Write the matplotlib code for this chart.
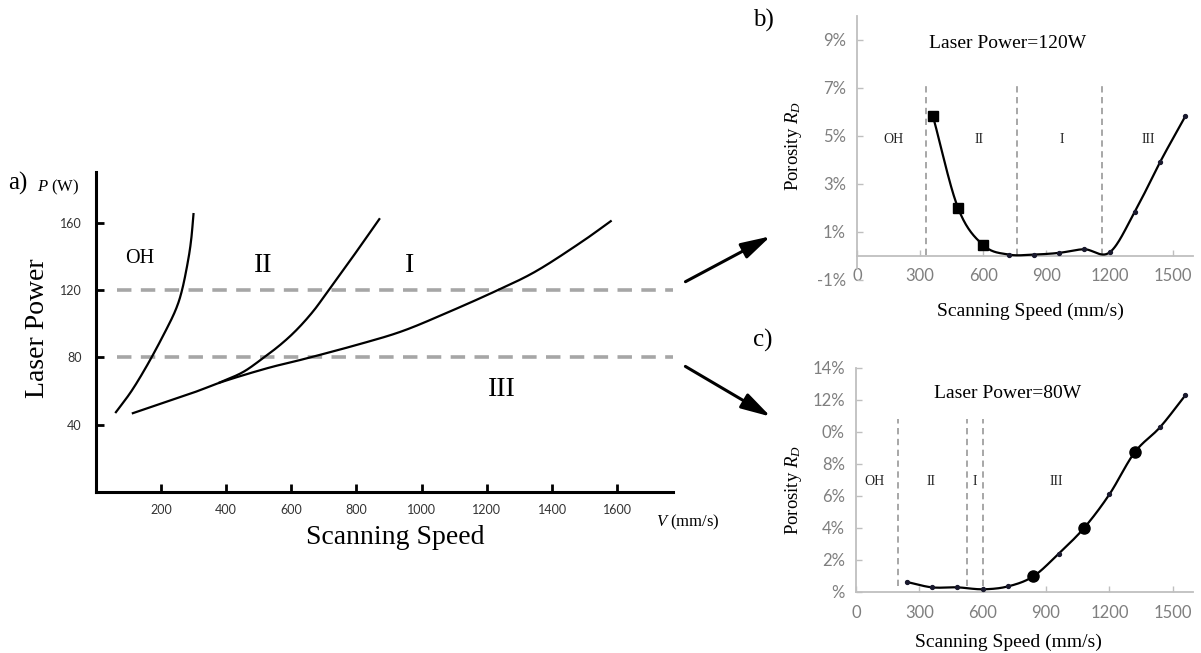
import numpy as np
import matplotlib
matplotlib.use("Agg")
import matplotlib.pyplot as plt
from matplotlib.patches import FancyArrowPatch

plt.rcParams['mathtext.fontset'] = 'custom'
plt.rcParams['mathtext.rm'] = 'Liberation Serif'
plt.rcParams['mathtext.it'] = 'Liberation Serif:italic'

SERIF = 'Liberation Serif'
SANS = 'Lato'

# ---------------- data ----------------
# Panel a: process map boundaries (scanning speed mm/s, laser power W)
oh_speed = [62, 110, 160, 210, 245, 265, 283, 293, 300]
oh_power = [47.4, 60, 76, 94, 108, 120, 137, 150, 165]
ii_speed = [380, 450, 510, 570, 620, 670, 715, 790, 870]
ii_power = [65, 71, 79, 88, 97, 108, 120, 140, 162]
i_speed = [114, 295, 391, 528, 638, 802, 939, 1076, 1226, 1350, 1487, 1580]
i_power = [46.8, 58.7, 65.6, 73.6, 78.9, 87.4, 95.4, 106.3, 119.2, 131, 148, 160.8]
power_levels = [120, 80]
a_xticks = [200, 400, 600, 800, 1000, 1200, 1400, 1600]
a_yticks = [40, 80, 120, 160]
a_regions = ['OH', 'II', 'I', 'III']
a_region_speed = [134, 514, 964, 1247]
a_region_power = [138.6, 134.5, 134.5, 60.7]

# Panel b: porosity at 120 W
b_speed = [360, 480, 600, 720, 840, 960, 1080, 1200, 1320, 1440, 1560]
b_porosity = [5.85, 2.0, 0.45, 0.06, 0.06, 0.13, 0.28, 0.15, 1.85, 3.92, 5.83]
b_big = [0, 1, 2]
b_bounds = [326, 762, 1165]
b_regions = ['OH', 'II', 'I', 'III']
b_region_speed = [174, 578, 971, 1382]
b_yticks = [-1, 1, 3, 5, 7, 9]
b_yticklabels = ['-1%', '1%', '3%', '5%', '7%', '9%']

# Panel c: porosity at 80 W
c_speed = [240, 360, 480, 600, 720, 840, 960, 1080, 1200, 1320, 1440, 1560]
c_porosity = [0.63, 0.29, 0.29, 0.17, 0.35, 0.98, 2.4, 4.0, 6.1, 8.73, 10.3, 12.3]
c_big = [5, 7, 9]
c_bounds = [199, 525, 603]
c_regions = ['OH', 'II', 'I', 'III']
c_region_speed = [87, 355, 563, 949]
c_yticks = [0, 2, 4, 6, 8, 10, 12, 14]
c_yticklabels = ['%', '2%', '4%', '6%', '8%', '0%', '12%', '14%']

bc_xticks = [0, 300, 600, 900, 1200, 1500]


def smooth(x, y, n=30):
    """Catmull-Rom spline through the points (Excel-like smoothed line)."""
    P = np.column_stack([x, y]).astype(float)
    P = np.vstack([2 * P[0] - P[1], P, 2 * P[-1] - P[-2]])
    out = []
    t = np.linspace(0, 1, n)[:, None]
    for i in range(1, len(P) - 2):
        p0, p1, p2, p3 = P[i - 1], P[i], P[i + 1], P[i + 2]
        m1 = (p2 - p0) / 2
        m2 = (p3 - p1) / 2
        h00 = 2 * t**3 - 3 * t**2 + 1
        h10 = t**3 - 2 * t**2 + t
        h01 = -2 * t**3 + 3 * t**2
        h11 = t**3 - t**2
        seg = h00 * p1 + h10 * m1 + h01 * p2 + h11 * m2
        out.append(seg if i == 1 else seg[1:])
    out = np.vstack(out)
    return out[:, 0], out[:, 1]


W, H = 1201, 653
fig = plt.figure(figsize=(W / 100, H / 100), dpi=100)


def fx(px):
    return px / W


def fy(py):
    return 1 - py / H


# ---------------- panel a ----------------
axa = fig.add_axes([fx(95.7), fy(492), fx(673) - fx(95.7), fy(172) - fy(492)])
axa.set_xlim(0, 1771)
axa.set_ylim(0, 190)
for s in ['top', 'right']:
    axa.spines[s].set_visible(False)
for s in ['left', 'bottom']:
    axa.spines[s].set_linewidth(2.2)
    axa.spines[s].set_color('black')
axa.set_xticks(a_xticks)
axa.set_yticks(a_yticks)
axa.tick_params(direction='in', length=6, width=2, colors='black', labelsize=9,
                labelcolor='#333333')
axa.tick_params(axis='x', pad=9)
axa.tick_params(axis='y', pad=10)
for lab in axa.get_xticklabels() + axa.get_yticklabels():
    lab.set_fontfamily(SANS)

for lvl in power_levels:
    axa.plot([65, 1771], [lvl, lvl], color='#a6a6a6', lw=2.6,
             dashes=(4, 2.6), clip_on=False, zorder=1)

for xs, ys in [(oh_speed, oh_power), (ii_speed, ii_power), (i_speed, i_power)]:
    sx, sy = smooth(xs, ys)
    axa.plot(sx, sy, color='black', lw=1.6, zorder=3)

for lab, vx, py in zip(a_regions, a_region_speed, a_region_power):
    axa.text(vx, py, lab, fontsize=14.5 if lab == 'OH' else 20, family=SERIF,
             ha='center', va='center')

fig.text(fx(80), fy(187), r'$P$ (W)', fontsize=12, family=SERIF, ha='right', va='center')
fig.text(fx(656), fy(522), r'$V$ (mm/s)', fontsize=12, family=SERIF, ha='left', va='center')
fig.text(fx(38), fy(328), 'Laser Power', fontsize=20, family=SERIF, rotation=90,
         ha='center', va='center')
fig.text(fx(395), fy(537), 'Scanning Speed', fontsize=20, family=SERIF,
         ha='center', va='center')
fig.text(fx(18), fy(183), 'a)', fontsize=18, family=SERIF, ha='center', va='center')

# arrows
for (x0, y0), (x1, y1) in [((683, 283), (773, 235)), ((683, 365), (773, 418))]:
    arr = FancyArrowPatch((fx(x0), fy(y0)), (fx(x1), fy(y1)), transform=fig.transFigure,
                          arrowstyle='-|>,head_length=0.9,head_width=0.25',
                          mutation_scale=20, color='black', lw=2.2)
    fig.add_artist(arr)

GRAY = '#bfbfbf'
TICKGRAY = '#7f7f7f'


def porosity_panel(rect, xlim, ylim, speed, por, big, bigmarker, bigsize, bounds,
                   bound_span, regions, region_speed, region_y, yticks, yticklabels,
                   title, title_xy, ylabel_xy, xlabel_xy, letter, letter_xy):
    ax = fig.add_axes(rect)
    ax.set_xlim(*xlim)
    ax.set_ylim(*ylim)
    ax.spines['top'].set_visible(False)
    ax.spines['right'].set_visible(False)
    ax.spines['bottom'].set_position(('data', 0))
    for s in ['left', 'bottom']:
        ax.spines[s].set_color(GRAY)
        ax.spines[s].set_linewidth(1.3)
    ax.set_xticks(bc_xticks)
    ax.set_yticks(yticks)
    ax.set_yticklabels(yticklabels)
    ax.tick_params(direction='in', length=4, width=1, colors=GRAY, labelsize=12,
                   labelcolor=TICKGRAY)
    ax.tick_params(axis='y', pad=8)
    ax.tick_params(axis='x', pad=9)
    for lab in ax.get_xticklabels() + ax.get_yticklabels():
        lab.set_fontfamily(SANS)
    for b in bounds:
        ax.plot([b, b], bound_span, color='#a0a0a0', lw=1.3, dashes=(3.5, 2.5), zorder=1)
    sx, sy = smooth(speed, por)
    ax.plot(sx, sy, color='black', lw=1.6, zorder=3)
    small = [i for i in range(len(speed)) if i not in big]
    ax.plot([speed[i] for i in small], [por[i] for i in small], 'o', color='#1a1a2e',
            ms=2.8, zorder=4, lw=0)
    ax.plot([speed[i] for i in big], [por[i] for i in big], bigmarker, color='black',
            ms=bigsize, zorder=5, lw=0)
    for lab, vx in zip(regions, region_speed):
        ax.text(vx, region_y, lab, fontsize=10, family=SERIF, ha='center', va='center',
                color='#222222')
    fig.text(fx(title_xy[0]), fy(title_xy[1]), title, fontsize=14, family=SERIF,
             ha='center', va='center')
    fig.text(fx(ylabel_xy[0]), fy(ylabel_xy[1]), r'Porosity $R_D$', fontsize=13.5,
             family=SERIF, rotation=90, ha='center', va='center')
    fig.text(fx(xlabel_xy[0]), fy(xlabel_xy[1]), 'Scanning Speed (mm/s)', fontsize=14,
             family=SERIF, ha='center', va='center')
    fig.text(fx(letter_xy[0]), fy(letter_xy[1]), letter, fontsize=18, family=SERIF,
             ha='center', va='center')
    return ax


# ---------------- panel b ----------------
axb = porosity_panel([fx(857), fy(280), fx(1193) - fx(857), fy(16) - fy(280)],
                     (0, 1596), (-1, 10), b_speed, b_porosity, b_big, 's', 6.5,
                     b_bounds, (0.05, 7.1), b_regions, b_region_speed, 4.85,
                     b_yticks, b_yticklabels, 'Laser Power=120W', (1008, 44),
                     (794, 146), (1030, 311), 'b)', (763, 20))
axb.spines['left'].set_bounds(-0.5, 10)

# ---------------- panel c ----------------
porosity_panel([fx(856), fy(592), fx(1193) - fx(856), fy(368) - fy(592)],
               (0, 1596), (0, 14), c_speed, c_porosity, c_big, 'o', 8,
               c_bounds, (0.35, 10.8), c_regions, c_region_speed, 6.9,
               c_yticks, c_yticklabels, 'Laser Power=80W', (1008, 393),
               (794, 490), (1008, 642), 'c)', (763, 340))

fig.savefig('out.png', dpi=100)
